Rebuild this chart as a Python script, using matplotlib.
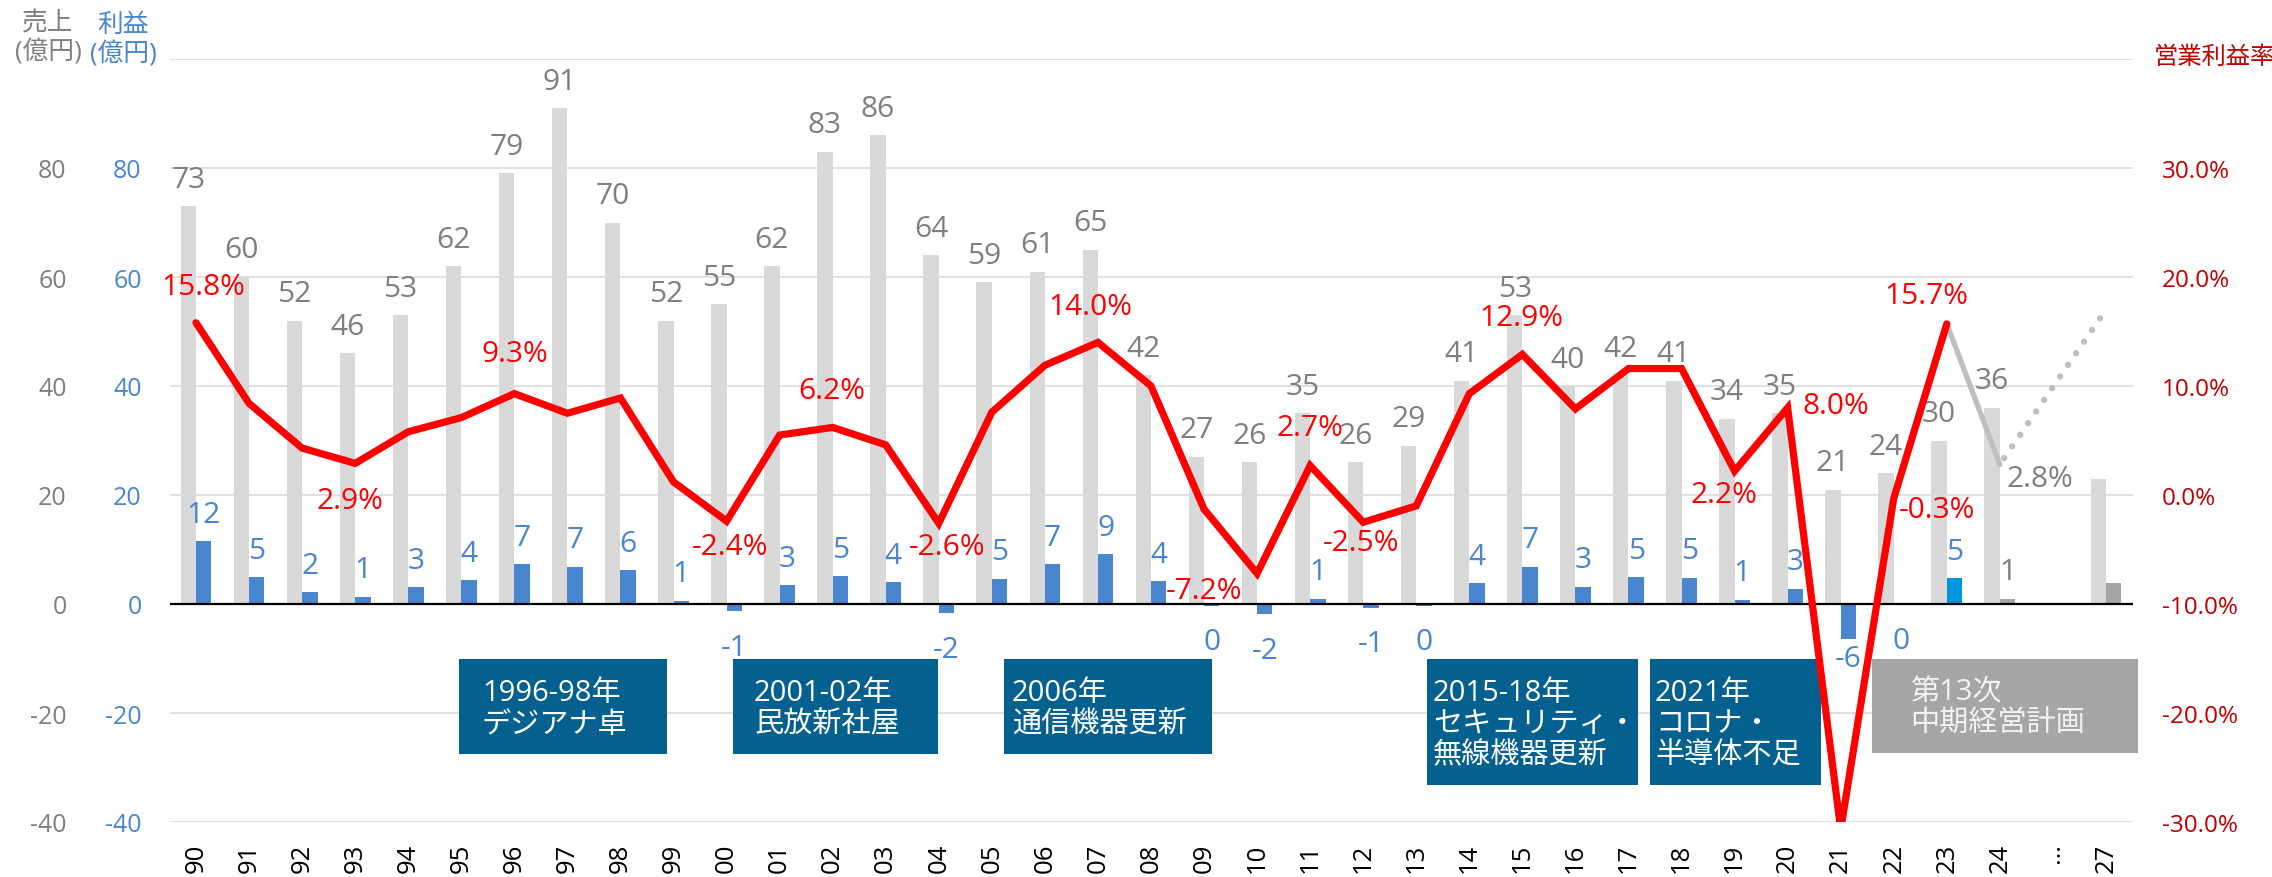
import numpy as np
import matplotlib.pyplot as plt
from matplotlib.patches import Rectangle

plt.rcParams['font.family'] = ['Open Sans', 'Noto Sans CJK JP', 'DejaVu Sans']

# 年度 (90年度〜24年度, 27年度は計画)
years = ['90', '91', '92', '93', '94', '95', '96', '97', '98', '99',
         '00', '01', '02', '03', '04', '05', '06', '07', '08', '09',
         '10', '11', '12', '13', '14', '15', '16', '17', '18', '19',
         '20', '21', '22', '23', '24', '…', '27']
# 売上 (億円)
sales = [73, 60, 52, 46, 53, 62, 79, 91, 70, 52,
         55, 62, 83, 86, 64, 59, 61, 65, 42, 27,
         26, 35, 26, 29, 41, 53, 40, 42, 41, 34,
         35, 21, 24, 30, 36, np.nan, 23]
# 営業利益 (億円)
profit = [11.5, 4.9, 2.2, 1.3, 3.1, 4.4, 7.3, 6.8, 6.2, 0.6,
          -1.3, 3.4, 5.1, 4.0, -1.7, 4.6, 7.3, 9.1, 4.2, -0.35,
          -1.9, 0.95, -0.65, -0.3, 3.8, 6.8, 3.2, 4.9, 4.8, 0.75,
          2.8, -6.4, -0.07, 4.7, 1.0, np.nan, 3.8]
# 営業利益率 (%)
margin = [15.8, 8.4, 4.3, 2.9, 5.8, 7.1, 9.3, 7.5, 8.9, 1.2,
          -2.4, 5.5, 6.2, 4.6, -2.6, 7.6, 11.9, 14.0, 10.0, -1.3,
          -7.2, 2.7, -2.5, -1.0, 9.3, 12.9, 7.9, 11.6, 11.6, 2.2,
          8.0, -30.7, -0.3, 15.7, 2.8, np.nan, 17.0]

notes = ['1996-98年\nデジアナ卓', '2001-02年\n民放新社屋', '2006年\n通信機器更新',
         '2015-18年\nセキュリティ・\n無線機器更新', '2021年\nコロナ・\n半導体不足',
         '第13次\n中期経営計画']

# ラベル位置 (px, 点からのずれ)
margin_label_offsets = {'90': (7, -36), '93': (-5, 37), '96': (1, -40), '00': (3, 25),
                        '02': (-1, -37), '04': (8, 23), '07': (-8, -36), '10': (-53, 17),
                        '11': (0, -38), '12': (-2, 20), '15': (-1, -37), '19': (-11, 23),
                        '20': (48, -2), '21': (62, -24), '22': (43, 11), '23': (-20, -28),
                        '24': (40, 14)}
note_boxes = [(459, 660, 667, 755), (733, 660, 938, 755), (1004, 660, 1212, 755),
              (1427, 660, 1638, 786), (1650, 660, 1821, 786), (1872, 660, 2138, 754)]
note_text_x = [482, 754, 1012, 1433, 1655, 1910]

W, H = 2272, 878
PT = 0.72  # px -> pt

def fx(px):
    return px / W

def fy(py):
    return 1 - py / H

fig = plt.figure(figsize=(W / 100, H / 100), dpi=100)
ax = fig.add_axes([fx(169.5), fy(823), fx(2132.5) - fx(169.5), fy(60) - fy(823)])
x = np.arange(len(years))
s = np.array(sales, dtype=float)
p = np.array(profit, dtype=float)
m = np.array(margin, dtype=float)

GRAY_TXT = '#7F7F7F'
BLUE = '#4A86D0'
LBL = 21.5
bw = 0.29
ax.bar(x - bw / 2, s, bw, color='#D9D9D9', zorder=2)
pcol = [BLUE] * len(x)
pcol[years.index('23')] = '#0096DB'
pcol[years.index('24')] = '#A6A6A6'
pcol[years.index('27')] = '#A6A6A6'
ax.bar(x + bw / 2, p, bw, color=pcol, zorder=2)
ax.axhline(0, color='black', lw=1.6, zorder=3)

for i in range(len(x)):
    if years[i] in ('…', '27'):
        continue
    ax.annotate(f'{s[i]:.0f}', (x[i] - bw / 2, s[i]), xytext=(0, 27 * PT),
                textcoords='offset points', ha='center', va='center',
                fontsize=LBL, color=GRAY_TXT, zorder=4)
    if p[i] >= 0:
        off = 27
    elif p[i] < -5:
        off = -20
    else:
        off = -36
    ax.annotate(f'{int(round(p[i]))}', (x[i] + bw / 2, p[i]), xytext=(0, off * PT),
                textcoords='offset points', ha='center', va='center', fontsize=LBL,
                color=GRAY_TXT if years[i] == '24' else BLUE, zorder=4)

ticks = list(range(-40, 101, 20))
labels = ['' if t == 100 else str(t) for t in ticks]
ax.set_xlim(-0.5, len(x) - 0.5)
ax.set_ylim(-40, 100)
ax.set_yticks(ticks, labels)
ax.set_xticks(x, years, rotation=90, fontsize=18.5)
ax.tick_params(axis='x', length=0, pad=15, colors='black')
ax.tick_params(axis='y', length=0, pad=20, labelcolor=BLUE, labelsize=18)
ax.yaxis.grid(True, color='#D9D9D9', lw=1.1)
ax.set_axisbelow(True)
for sp in ax.spines.values():
    sp.set_visible(False)

sec = ax.secondary_yaxis('left')
sec.set_yticks(ticks, labels)
sec.tick_params(length=0, pad=74, labelcolor=GRAY_TXT, labelsize=18)
sec.spines['left'].set_visible(False)

ax2 = ax.twinx()
i23, i24, i27 = years.index('23'), years.index('24'), years.index('27')
ax2.plot(x[:i23 + 1], m[:i23 + 1], color='#FF0000', lw=5.2, zorder=6,
         solid_joinstyle='miter', solid_capstyle='round')
ax2.plot(x[i23:i24 + 1], m[i23:i24 + 1], color='#BFBFBF', lw=3.8, zorder=5,
         solid_capstyle='round')
ax2.plot(x[[i24, i27]], m[[i24, i27]], color='#BFBFBF', lw=4.6,
         ls=(1.0, (0.01, 2.2)), dash_capstyle='round', zorder=5)
ax2.set_ylim(-30, 40)
rt = list(range(-30, 31, 10))
ax2.set_yticks(rt, [f'{t:.1f}%' for t in rt])
ax2.tick_params(axis='y', length=0, pad=21, labelcolor='#C00000', labelsize=17.5)
for sp in ax2.spines.values():
    sp.set_visible(False)

for yr, (dx, dy) in margin_label_offsets.items():
    i = years.index(yr)
    col = '#FF0000'
    if yr == '24':
        col = GRAY_TXT
    elif yr == '21':
        col = '#C00000'
    ax2.annotate(f'{m[i]:.1f}%', (x[i], m[i]), xytext=(dx * PT, -dy * PT),
                 textcoords='offset points', ha='center', va='center',
                 fontsize=LBL, color=col, zorder=7)

for k, (txt, (x0, y0, x1, y1)) in enumerate(zip(notes, note_boxes)):
    last = k == len(notes) - 1
    ax2.add_patch(Rectangle((fx(x0), fy(y1)), fx(x1) - fx(x0), fy(y0) - fy(y1),
                            transform=fig.transFigure, clip_on=False, zorder=4,
                            facecolor='#A6A6A6' if last else '#04618F', edgecolor='none'))
    ax2.text(fx(note_text_x[k]), fy((y0 + y1) / 2 + 2), txt, transform=fig.transFigure,
             ha='left', va='center', fontsize=21, linespacing=1.1,
             color='#F2F2F2' if last else 'white', zorder=5, clip_on=False)

fig.text(fx(48), fy(11), '売上\n(億円)', ha='center', va='top', fontsize=18.5,
         color=GRAY_TXT, linespacing=1.15)
fig.text(fx(123), fy(13), '利益\n(億円)', ha='center', va='top', fontsize=18.5,
         color=BLUE, linespacing=1.15)
fig.text(fx(2154), fy(58), '営業利益率', ha='left', va='center', fontsize=17.5,
         color='#C00000')

fig.savefig('out.png', dpi=100)
